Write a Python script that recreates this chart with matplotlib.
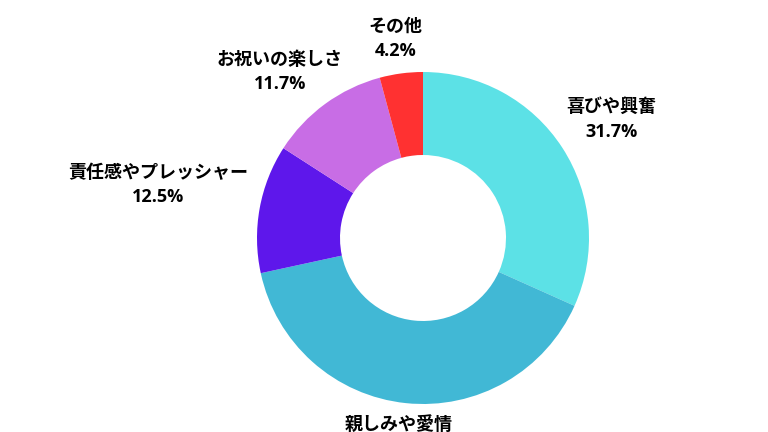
import numpy as np
import matplotlib
matplotlib.use("Agg")
import matplotlib.pyplot as plt

plt.rcParams['font.family'] = ['Open Sans', 'Noto Sans CJK JP', 'DejaVu Sans']

labels = ["喜びや興奮", "親しみや愛情", "責任感やプレッシャー", "お祝いの楽しさ", "その他"]
values = [31.7, 39.9, 12.5, 11.7, 4.2]
colors = ["#5CE1E6", "#41B8D5", "#5E17EB", "#C86DE5", "#FF3131"]

W, H = 768, 432
cx_px, cy_px = 423, 238   # donut centre in pixels (from top)
r_px = 166

fig = plt.figure(figsize=(W / 100, H / 100), dpi=100)
ax = fig.add_axes([0, 0, 1, 1])

wedges, _ = ax.pie(values, colors=colors, startangle=90, counterclock=False,
                   radius=1.0, wedgeprops=dict(width=0.5, linewidth=0))

ax.set_xlim(-cx_px / r_px, (W - cx_px) / r_px)
ax.set_ylim(-(H - cy_px) / r_px, cy_px / r_px)
ax.set_aspect('equal')
ax.axis('off')

fig.canvas.draw()
renderer = fig.canvas.get_renderer()
for w, name, v in zip(wedges, labels, values):
    ang = np.deg2rad((w.theta1 + w.theta2) / 2)
    t = ax.text(0, 0, f"{name}\n{v}%", ha='center', va='center',
                fontsize=13, fontweight='bold', linespacing=1.45, color='black')
    bb = t.get_window_extent(renderer)
    hw = bb.width / 2 / r_px
    hh = bb.height / 2 / r_px
    x = (1.08 + hw) * np.cos(ang)
    y = 1.08 * np.sin(ang) + hh * np.sign(np.sin(ang))
    t.set_position((x, y))

fig.savefig("out.png", dpi=100, facecolor='white')
